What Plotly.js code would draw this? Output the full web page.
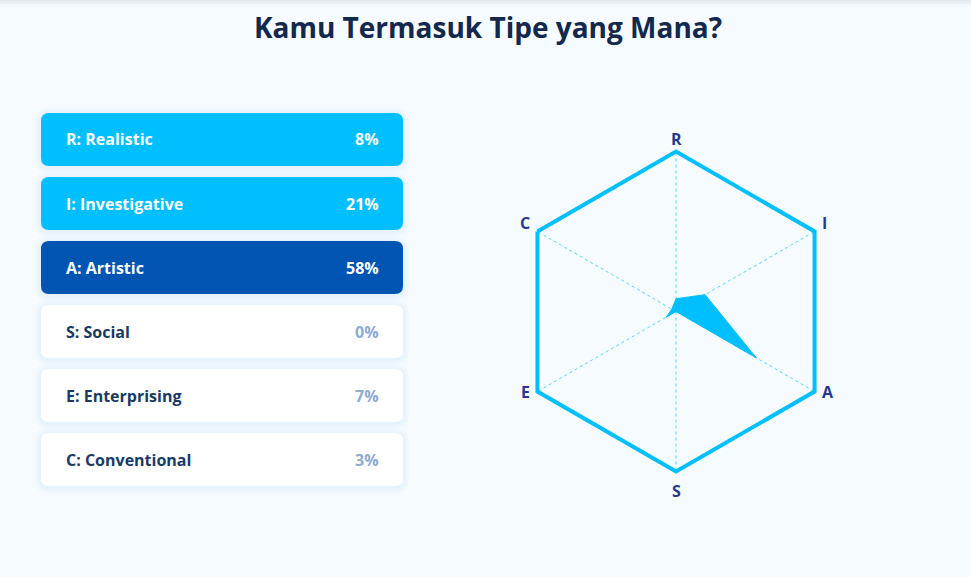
<!DOCTYPE html>
<html>
<head>
<meta charset="utf-8">
<script src="https://cdn.plot.ly/plotly-3.0.1.min.js"></script>
<style>
  html, body { margin: 0; padding: 0; background: #f5fbff; }
  #chart { width: 971px; height: 577px; }
</style>
</head>
<body>
<div id="chart"></div>
<script>
// ---- Data ----
const codes = ['R', 'I', 'A', 'S', 'E', 'C'];
const typeNames = ['Realistic', 'Investigative', 'Artistic', 'Social', 'Enterprising', 'Conventional'];
const percents = [8, 21, 58, 0, 7, 3];
const chartTitle = 'Kamu Termasuk Tipe yang Mana?';

// ---- Helpers (pixel -> paper) ----
const W = 971, H = 577;
const px = v => v / W;
const py = v => 1 - v / H;

function roundRectPath(x0, y0, x1, y1, r) {
  const P = (x, y) => px(x) + ',' + py(y);
  return 'M' + P(x0 + r, y0) +
    ' L' + P(x1 - r, y0) + ' Q' + P(x1, y0) + ' ' + P(x1, y0 + r) +
    ' L' + P(x1, y1 - r) + ' Q' + P(x1, y1) + ' ' + P(x1 - r, y1) +
    ' L' + P(x0 + r, y1) + ' Q' + P(x0, y1) + ' ' + P(x0, y1 - r) +
    ' L' + P(x0, y0 + r) + ' Q' + P(x0, y0) + ' ' + P(x0 + r, y0) + ' Z';
}

// ranking for card highlight
const order = percents.map((v, i) => i).sort((a, b) => percents[b] - percents[a]);
const rankOf = {};
order.forEach((idx, r) => { rankOf[idx] = r; });

const shapes = [];
const annotations = [];

// top header shadow
const topBands = ['#e4e8ec', '#eaeef2', '#eef2f6', '#f2f7fb'];
topBands.forEach((c, i) => {
  shapes.push({type: 'rect', xref: 'paper', yref: 'paper', x0: 0, x1: 1,
    y0: py(i * 1.5 + 1.5), y1: py(i * 1.5), fillcolor: c, line: {width: 0}, layer: 'below'});
});

const cardX0 = 41, cardX1 = 403, cardH = 53, cardTop = 113, cardGap = 64;
codes.forEach((code, i) => {
  const y0 = cardTop + i * cardGap, y1 = y0 + cardH;
  const rank = rankOf[i];
  let fill, labelColor, valueColor;
  if (rank === 0) { fill = '#0055b3'; labelColor = '#ffffff'; valueColor = '#ffffff'; }
  else if (rank <= 2) { fill = '#00bfff'; labelColor = '#ffffff'; valueColor = '#ffffff'; }
  else { fill = '#ffffff'; labelColor = '#1b3a63'; valueColor = '#8eabd0'; }
  [6, 4, 2].forEach(s => {
    shapes.push({type: 'path', xref: 'paper', yref: 'paper', layer: 'below',
      path: roundRectPath(cardX0 - s, y0 - s + 1, cardX1 + s, y1 + s + 1, 8 + s),
      fillcolor: 'rgba(40,110,200,0.022)', line: {width: 0}});
  });
  shapes.push({type: 'path', xref: 'paper', yref: 'paper', layer: 'below',
    path: roundRectPath(cardX0, y0, cardX1, y1, 8),
    fillcolor: fill, line: {width: 0}});
  const yc = py((y0 + y1) / 2);
  annotations.push({xref: 'paper', yref: 'paper', x: px(64), y: yc,
    xanchor: 'left', yanchor: 'middle', showarrow: false,
    text: code + ': ' + typeNames[i],
    font: {family: 'Open Sans', size: 16, color: labelColor, weight: 700}});
  annotations.push({xref: 'paper', yref: 'paper', x: px(381), y: yc,
    xanchor: 'right', yanchor: 'middle', showarrow: false,
    text: percents[i] + '%',
    font: {family: 'Open Sans', size: 16, color: valueColor, weight: 700}});
});

// ---- Radar ----
const cx = 676, cy = 311.5, R = 160;

// axis labels placed just outside each hexagon vertex
codes.forEach((code, i) => {
  const ang = (i / codes.length) * 2 * Math.PI;   // clockwise from top
  const s = Math.sin(ang), c = Math.cos(ang);
  const vx = cx + R * s, vy = cy - R * c;
  let xanchor = 'center', dx = 0;
  if (s > 0.1) { xanchor = 'left'; dx = 6; }
  else if (s < -0.1) { xanchor = 'right'; dx = -6; }
  const dy = c > 0.9 ? -12.5 : c > 0 ? -8.5 : c > -0.9 ? 0 : 19;
  annotations.push({xref: 'paper', yref: 'paper', x: px(vx + dx), y: py(vy + dy),
    xanchor: xanchor, yanchor: 'middle', showarrow: false, borderpad: 0,
    text: code,
    font: {family: 'Open Sans', size: 16, color: '#26398c', weight: 700}});
});

const trace = {
  type: 'scatterpolar',
  r: percents.concat([percents[0]]),
  theta: codes.concat([codes[0]]),
  mode: 'lines',
  fill: 'toself',
  fillcolor: '#00bfff',
  line: {color: '#00bfff', width: 1},
  hoverinfo: 'skip',
  showlegend: false
};

const layout = {
  width: W, height: H,
  margin: {l: 0, r: 0, t: 0, b: 0},
  paper_bgcolor: '#f5fbff',
  plot_bgcolor: '#f5fbff',
  showlegend: false,
  title: {
    text: chartTitle,
    x: px(488), xanchor: 'center', xref: 'paper',
    y: py(28), yanchor: 'middle', yref: 'paper',
    font: {family: 'Open Sans', size: 28, color: '#14284b', weight: 700}
  },
  polar: {
    domain: {x: [px(cx - R), px(cx + R)], y: [py(cy + R), py(cy - R)]},
    bgcolor: 'rgba(0,0,0,0)',
    gridshape: 'linear',
    angularaxis: {
      type: 'category',
      direction: 'clockwise',
      rotation: 90,
      showline: true,
      linecolor: '#00bfff',
      linewidth: 4,
      showgrid: true,
      gridcolor: 'rgba(0,191,255,0.65)',
      gridwidth: 1,
      griddash: '3px,3px',
      ticks: '',
      showticklabels: false
    },
    radialaxis: {
      range: [0, 100],
      visible: false,
      showgrid: false
    }
  },
  shapes: shapes,
  annotations: annotations
};

Plotly.newPlot('chart', [trace], layout, {displayModeBar: false, staticPlot: true});
</script>
</body>
</html>
